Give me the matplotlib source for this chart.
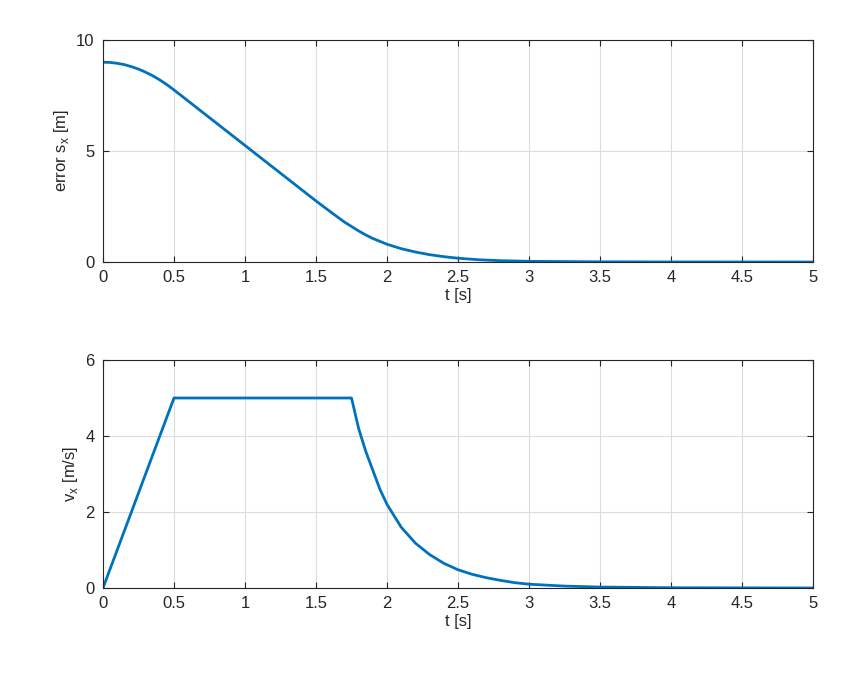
import matplotlib
matplotlib.use("Agg")
import matplotlib.pyplot as plt

t_err = [0, 0.05, 0.1, 0.15, 0.2, 0.25, 0.3, 0.35, 0.4, 0.45, 0.5, 1.0, 1.5, 1.6, 1.7, 1.75, 1.8, 1.85, 1.9, 2.0, 2.1, 2.2, 2.3, 2.4, 2.5, 2.65, 2.8, 3.0, 3.5, 4.0, 5.0]
err_sx = [9.0, 8.99, 8.95, 8.89, 8.8, 8.69, 8.55, 8.39, 8.2, 7.99, 7.75, 5.25, 2.75, 2.27, 1.8, 1.6, 1.4, 1.22, 1.06, 0.8, 0.6, 0.45, 0.33, 0.24, 0.17, 0.1, 0.06, 0.03, 0.008, 0.002, 0.0]

t_v = [0, 0.5, 1.75, 1.8, 1.85, 1.9, 1.95, 2.0, 2.05, 2.1, 2.2, 2.3, 2.4, 2.5, 2.6, 2.7, 2.8, 2.9, 3.0, 3.25, 3.5, 4.0, 5.0]
v_x = [0, 5.0, 5.0, 4.2, 3.6, 3.1, 2.6, 2.2, 1.9, 1.6, 1.18, 0.88, 0.65, 0.48, 0.36, 0.27, 0.2, 0.14, 0.1, 0.05, 0.025, 0.007, 0.0]

xticks = [0, 0.5, 1, 1.5, 2, 2.5, 3, 3.5, 4, 4.5, 5]
xticklabels = ["0", "0.5", "1", "1.5", "2", "2.5", "3", "3.5", "4", "4.5", "5"]

plt.rcParams['font.family'] = ['Liberation Sans', 'DejaVu Sans']
plt.rcParams['font.size'] = 12
fig = plt.figure(figsize=(8.45, 6.82), dpi=100)
ax1 = fig.add_axes([103/845, 1-262/682, 710/845, 222/682])
ax2 = fig.add_axes([103/845, 1-588/682, 710/845, 228/682])

def style(ax, yt):
    ax.set_xlim(0, 5)
    ax.set_xticks(xticks)
    ax.set_xticklabels(xticklabels)
    ax.set_yticks(yt)
    ax.grid(True, color='#dcdcdc', linewidth=0.8)
    ax.set_axisbelow(True)
    for s in ax.spines.values():
        s.set_color('#262626'); s.set_linewidth(0.8)
    ax.tick_params(direction='in', colors='#262626', length=4, pad=6, top=True, right=True, labeltop=False, labelright=False)
    ax.set_xlabel('t [s]', color='#262626', labelpad=2)

ax1.plot(t_err, err_sx, color='#0072BD', linewidth=2)
ax1.set_ylim(0, 10)
style(ax1, [0, 5, 10])
ax1.set_ylabel('error s$_\\mathregular{x}$ [m]', color='#262626')

ax2.plot(t_v, v_x, color='#0072BD', linewidth=2)
ax2.set_ylim(0, 6)
style(ax2, [0, 2, 4, 6])
ax2.set_ylabel('v$_\\mathregular{x}$ [m/s]', color='#262626')

fig.savefig('out.png', dpi=100)
